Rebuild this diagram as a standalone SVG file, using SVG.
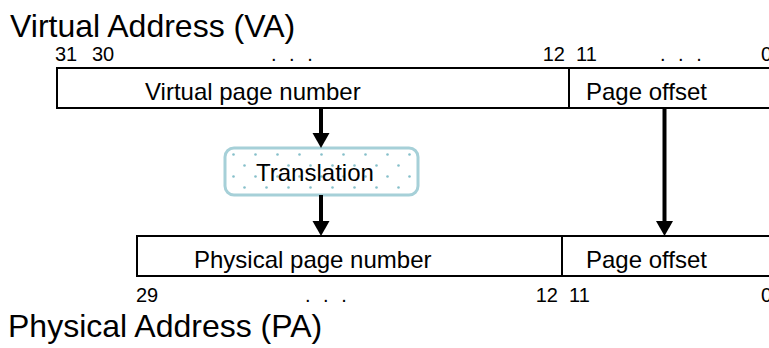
<svg xmlns="http://www.w3.org/2000/svg" width="769" height="348" viewBox="0 0 769 348">
<style>
text{font-family:"Liberation Sans",Arial,sans-serif;fill:#000}
.title{font-size:32px}
.lbl{font-size:24px}
.bit{font-size:20px}
.dots{font-size:20px;word-spacing:7px}
.field{fill:#fff;stroke:#000;stroke-width:2}
.conn{stroke:#000;stroke-width:4;fill:none}
</style>
<defs>
<marker id="ah" markerUnits="userSpaceOnUse" markerWidth="16" markerHeight="18" refX="5" refY="8.5" orient="auto">
<path d="M0,0 L15,8.5 L0,17 z" fill="#000"/>
</marker>
<pattern id="dotpat" patternUnits="userSpaceOnUse" x="232" y="153" width="22" height="22">
<circle cx="1.5" cy="1.5" r="1.3" fill="#86c0ca"/>
<circle cx="12.5" cy="12.5" r="1.3" fill="#86c0ca"/>
</pattern>
</defs>
<text class="title" x="10" y="37">Virtual Address (VA)</text>
<text class="title" x="8" y="337">Physical Address (PA)</text>
<g id="va">
<rect class="field" x="57" y="68" width="740" height="40"/>
<line x1="569" y1="68" x2="569" y2="108" stroke="#000" stroke-width="2"/>
<text class="lbl" x="145" y="100">Virtual page number</text>
<text class="lbl" x="586" y="100">Page offset</text>
<text class="bit" x="55" y="61">31</text>
<text class="bit" x="92" y="61">30</text>
<text class="dots" x="271" y="61">. . .</text>
<text class="bit" x="565" y="61" text-anchor="end">12</text>
<text class="bit" x="576" y="61">11</text>
<text class="dots" x="660" y="61">. . .</text>
<text class="bit" x="761" y="61">0</text>
</g>
<g id="translation">
<rect x="225" y="148" width="193" height="47" rx="9" fill="#fff" stroke="#a6d0d8" stroke-width="3"/>
<rect x="227" y="150" width="189" height="43" rx="8" fill="url(#dotpat)"/>
<text class="lbl" x="256" y="181">Translation</text>
</g>
<g id="pa">
<rect class="field" x="137" y="236" width="660" height="40"/>
<line x1="562" y1="236" x2="562" y2="276" stroke="#000" stroke-width="2"/>
<text class="lbl" x="194" y="268">Physical page number</text>
<text class="lbl" x="586" y="268">Page offset</text>
<text class="bit" x="136" y="302">29</text>
<text class="dots" x="305" y="302">. . .</text>
<text class="bit" x="558" y="302" text-anchor="end">12</text>
<text class="bit" x="569" y="302">11</text>
<text class="bit" x="761" y="302">0</text>
</g>
<g id="connectors">
<line class="conn" x1="321" y1="108" x2="321" y2="138" marker-end="url(#ah)"/>
<line class="conn" x1="321" y1="195" x2="321" y2="226" marker-end="url(#ah)"/>
<line class="conn" x1="664.5" y1="108" x2="664.5" y2="226" marker-end="url(#ah)"/>
</g>
</svg>
